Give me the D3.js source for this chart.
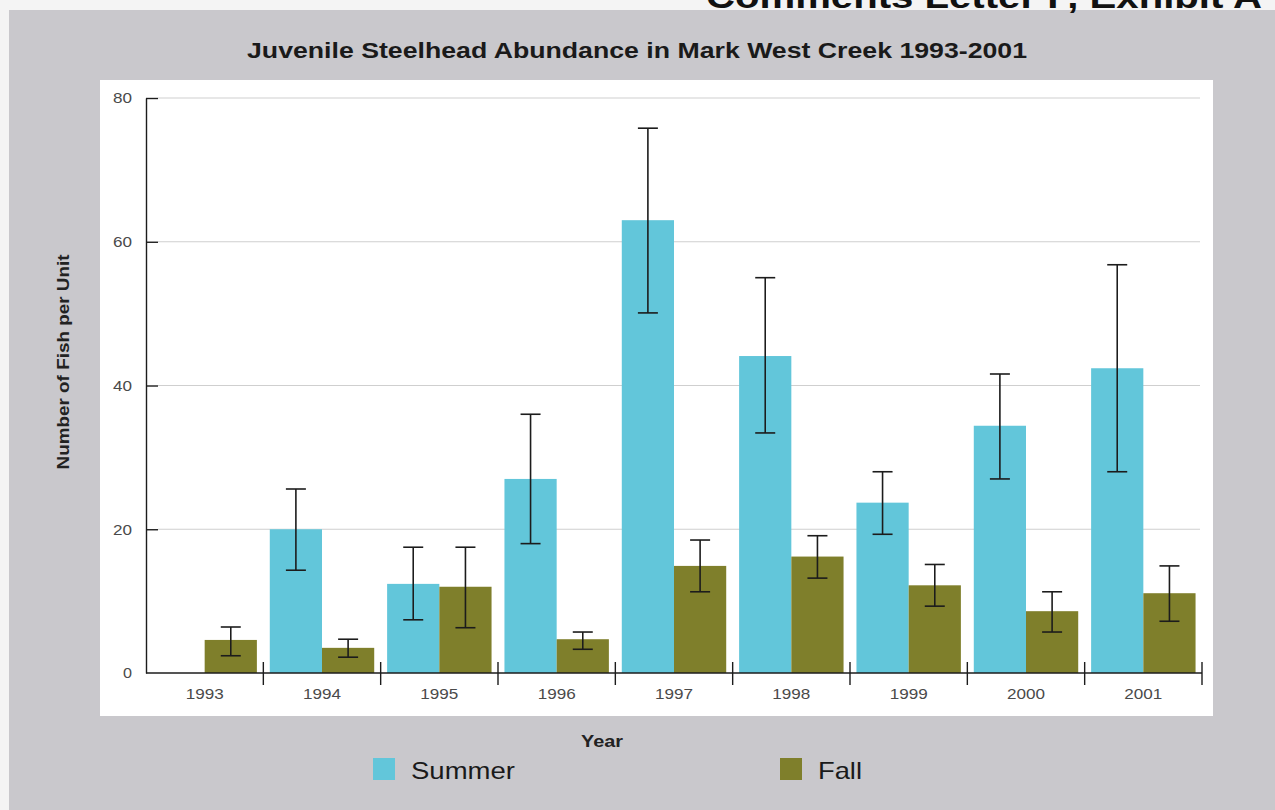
<!DOCTYPE html>
<html>
<head>
<meta charset="utf-8">
<script src="https://cdn.jsdelivr.net/npm/d3@7"></script>
<style>
  body { margin: 0; background: #fff; }
  svg { display: block; font-family: "Liberation Sans", Arial, sans-serif; }
</style>
</head>
<body>
<div id="chart"></div>
<script>
const years = ["1993", "1994", "1995", "1996", "1997", "1998", "1999", "2000", "2001"]
const series = ["Summer", "Fall"]

// means, then error bar top / bottom
const summer = [0, 20.0, 12.4, 27.0, 63.0, 44.1, 23.7, 34.4, 42.4]
const summerHi = [null, 25.6, 17.5, 36.0, 75.8, 55.0, 28.0, 41.6, 56.8]
const summerLo = [null, 14.3, 7.4, 18.0, 50.1, 33.4, 19.3, 27.0, 28.0]

const fall = [4.6, 3.5, 12.0, 4.7, 14.9, 16.2, 12.2, 8.6, 11.1]
const fallHi = [6.4, 4.7, 17.5, 5.7, 18.5, 19.1, 15.1, 11.3, 14.9]
const fallLo = [2.4, 2.2, 6.3, 3.3, 11.3, 13.2, 9.3, 5.7, 7.2]

const yTicks = [0, 20, 40, 60, 80]

const colors = { Summer: "#62c6da", Fall: "#7f7f2b" }

const width = 1275
const height = 810

const x0 = 146, x1 = 1202, yTop = 98, yBot = 673

const svg = d3.select("#chart").append("svg")
    .attr("width", width)
    .attr("height", height)

// page + gray panel
svg.append("rect").attr("width", width).attr("height", height).attr("fill", "#f4f4f4")
svg.append("rect").attr("x", 9).attr("y", 10).attr("width", width - 9).attr("height", height - 10).attr("fill", "#c9c8cc")

// header of the page, cut off by the top edge
svg.append("text")
    .attr("x", 706).attr("y", 8)
    .attr("textLength", 556).attr("lengthAdjust", "spacingAndGlyphs")
    .style("font-size", "34px").style("font-weight", "bold")
    .attr("fill", "#111")
    .text("Comments Letter F, Exhibit A")

// white plot panel
svg.append("rect").attr("x", 100).attr("y", 80).attr("width", 1113).attr("height", 636).attr("fill", "#fff")

svg.append("text")
    .attr("x", 247).attr("y", 58)
    .attr("textLength", 780).attr("lengthAdjust", "spacingAndGlyphs")
    .style("font-size", "22px").style("font-weight", "bold")
    .attr("fill", "#1a1a1a")
    .text("Juvenile Steelhead Abundance in Mark West Creek 1993-2001")

const x = d3.scaleBand()
    .domain(years)
    .range([x0, x1])
    .paddingInner(0.11)
    .paddingOuter(0.055)

const xs = d3.scaleBand()
    .domain(series)
    .range([0, x.bandwidth()])

const y = d3.scaleLinear()
    .domain([0, 80])
    .range([yBot, yTop])

// gridlines
svg.append("g")
  .selectAll("line")
  .data(yTicks.filter(d => d > 0))
  .join("line")
    .attr("x1", 158).attr("x2", 1200)
    .attr("y1", d => y(d)).attr("y2", d => y(d))
    .attr("stroke", "#cfcfcf").attr("stroke-width", 1.2)

const rows = years.map((yr, i) => ({
  year: yr,
  vals: [
    { s: "Summer", v: summer[i], hi: summerHi[i], lo: summerLo[i] },
    { s: "Fall", v: fall[i], hi: fallHi[i], lo: fallLo[i] }
  ]
}))

const group = svg.append("g")
  .selectAll("g")
  .data(rows)
  .join("g")
    .attr("transform", d => `translate(${x(d.year)},0)`)

group.selectAll("rect")
  .data(d => d.vals.filter(v => v.v > 0))
  .join("rect")
    .attr("x", d => xs(d.s))
    .attr("width", xs.bandwidth())
    .attr("y", d => y(d.v))
    .attr("height", d => y(0) - y(d.v))
    .attr("fill", d => colors[d.s])

// error bars
const err = group.selectAll("g.err")
  .data(d => d.vals.filter(v => v.hi != null))
  .join("g")
    .attr("class", "err")
    .attr("transform", d => `translate(${xs(d.s) + xs.bandwidth() / 2},0)`)
    .attr("stroke", "#1c1c1c").attr("stroke-width", 1.6)

err.append("line").attr("y1", d => y(d.hi)).attr("y2", d => y(d.lo))
err.append("line").attr("x1", -10).attr("x2", 10).attr("y1", d => y(d.hi)).attr("y2", d => y(d.hi))
err.append("line").attr("x1", -10).attr("x2", 10).attr("y1", d => y(d.lo)).attr("y2", d => y(d.lo))

// y axis
const yAxis = svg.append("g")
    .attr("transform", `translate(${x0},0)`)
    .call(d3.axisLeft(y).tickValues(yTicks).tickSizeOuter(0).tickSizeInner(13).tickPadding(2))
yAxis.select(".domain").attr("stroke", "#1c1c1c").attr("stroke-width", 1.4)
yAxis.selectAll(".tick line").attr("stroke", "#1c1c1c").attr("stroke-width", 1.4).attr("x2", 12)
yAxis.selectAll(".tick line").filter(d => d === 0).remove()
yAxis.selectAll(".tick text")
    .style("font-size", "15px").attr("fill", "#4a4a4a")
    .attr("font-family", null)
    .attr("x", -14)
    .attr("textLength", d => d === 0 ? 9 : 19).attr("lengthAdjust", "spacingAndGlyphs")

// x axis
svg.append("line")
    .attr("x1", x0).attr("x2", x1)
    .attr("y1", yBot).attr("y2", yBot)
    .attr("stroke", "#1c1c1c").attr("stroke-width", 1.6)

const bounds = years.slice(1).map(d => x(d) - x.step() * x.paddingInner() / 2).concat([x1])
svg.append("g")
  .selectAll("line")
  .data(bounds)
  .join("line")
    .attr("x1", d => d).attr("x2", d => d)
    .attr("y1", yBot - 11).attr("y2", yBot + 12)
    .attr("stroke", "#1c1c1c").attr("stroke-width", 1.4)

const xAxis = svg.append("g")
    .attr("transform", `translate(0,${yBot})`)
    .call(d3.axisBottom(x).tickSize(0).tickPadding(15))
xAxis.select(".domain").remove()
xAxis.selectAll(".tick text")
    .style("font-size", "15px").attr("fill", "#4a4a4a")
    .attr("font-family", null)
    .attr("textLength", 38).attr("lengthAdjust", "spacingAndGlyphs")

// axis titles
svg.append("text")
    .attr("x", 602).attr("y", 747)
    .attr("text-anchor", "middle")
    .attr("textLength", 42).attr("lengthAdjust", "spacingAndGlyphs")
    .style("font-size", "16px").style("font-weight", "bold")
    .attr("fill", "#222")
    .text("Year")

svg.append("text")
    .attr("transform", "translate(69,362) rotate(-90)")
    .attr("text-anchor", "middle")
    .attr("textLength", 215).attr("lengthAdjust", "spacingAndGlyphs")
    .style("font-size", "16px").style("font-weight", "bold")
    .attr("fill", "#222")
    .text("Number of Fish per Unit")

// legend
const legendX = [373, 780]
const legendW = [104, 44]
const legend = svg.append("g")
  .selectAll("g")
  .data(series)
  .join("g")
    .attr("transform", (d, i) => `translate(${legendX[i]},758)`)

legend.append("rect")
    .attr("width", 22).attr("height", 22)
    .attr("fill", d => colors[d])

legend.append("text")
    .attr("x", 38).attr("y", 21)
    .attr("textLength", (d, i) => legendW[i]).attr("lengthAdjust", "spacingAndGlyphs")
    .style("font-size", "24px")
    .attr("fill", "#1a1a1a")
    .text(d => d)
</script>
</body>
</html>
